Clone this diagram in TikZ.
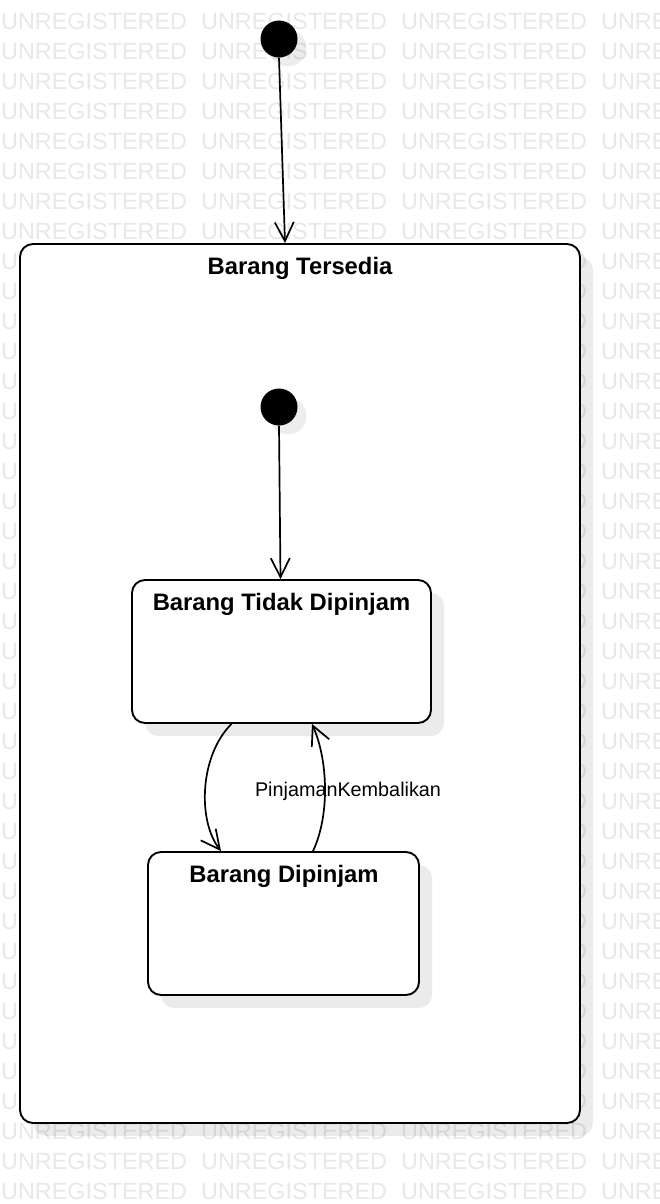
\documentclass[tikz,border=0pt]{standalone}
\usepackage{fontspec}
\setmainfont{Liberation Sans}
\usetikzlibrary{arrows.meta,shadows,calc}
\begin{document}
\begin{tikzpicture}[x=1pt,y=-1pt,
  wm/.style={anchor=west,inner sep=0pt,text=black!9,font=\fontsize{23.4}{26}\selectfont},
  shad/.style={drop shadow={shadow xshift=13pt,shadow yshift=-13pt,fill=black,opacity=0.08}},
  cshad/.style={drop shadow={shadow xshift=9pt,shadow yshift=-9pt,fill=black,opacity=0.07}},
  statebox/.style={draw,line width=1.9pt,fill=white,rounded corners=13pt,shad},
  initst/.style={circle,fill=black,inner sep=0pt,minimum size=37pt,cshad},
  ttl/.style={font=\bfseries\fontsize{23.8}{26}\selectfont,inner sep=0pt},
  lbl/.style={font=\fontsize{19.8}{22}\selectfont,inner sep=0pt},
  conn/.style={line width=1.7pt,-{Straight Barb[length=19pt,width=19pt,line width=1.7pt]}}
]
\useasboundingbox[fill=white] (0,0) rectangle (660,1204);
% watermark
\foreach \r in {0,...,39}{
  \foreach \c in {0,...,3}{
    \node[wm] (wm-\r-\c) at (\c*200+1, 21+\r*30) {UNREGISTERED};
  }
}
% outer composite state
\node[statebox,minimum width=560pt,minimum height=879pt] (outer) at (300,683.5) {};
\node[ttl] (outerttl) at (300,268) {Barang Tersedia};
% initial states
\node[initst] (init1) at (279,39) {};
\node[initst] (init2) at (279,407) {};
% inner states
\node[statebox,minimum width=299pt,minimum height=143pt] (tidak) at (281.5,651.5) {};
\node[ttl] (tidakttl) at (281.5,604) {Barang Tidak Dipinjam};
\node[statebox,minimum width=271pt,minimum height=143pt] (dip) at (283.5,923.5) {};
\node[ttl] (dipttl) at (284,876) {Barang Dipinjam};
% connectors
\draw[conn] (init1.south) -- ([xshift=-15pt]outer.north);
\draw[conn] (init2.south) -- ([xshift=-1pt]tidak.north);
\draw[conn] ([xshift=-50pt]tidak.south) .. controls (200,755) and (197,820) .. ([xshift=-62.5pt]dip.north);
\draw[conn] ([xshift=29.5pt]dip.north) .. controls (330,815) and (328,760) .. ([xshift=30.5pt]tidak.south);
\node[lbl] (lab) at (348,791) {PinjamanKembalikan};
\end{tikzpicture}
\end{document}
